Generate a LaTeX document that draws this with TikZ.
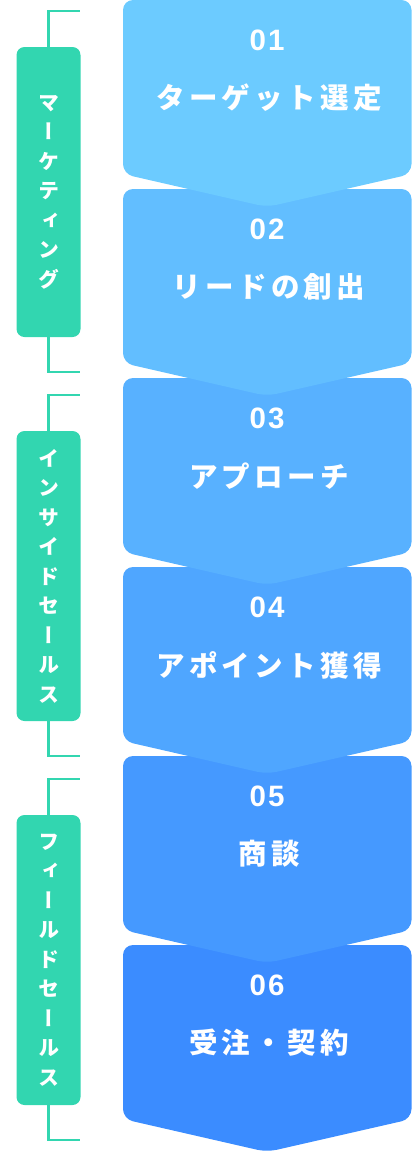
\documentclass[tikz,border=0pt]{standalone}
\usepackage{fontspec}
\setmainfont{Noto Sans CJK JP}
\newfontfamily\titlefont{Noto Sans CJK JP}[LetterSpace=15]
\newfontfamily\numfont{Liberation Sans}[LetterSpace=7]
\newfontfamily\tatefont{Noto Sans CJK JP}[RawFeature=+vert]

\definecolor{chev1}{HTML}{6CCBFF}
\definecolor{chev2}{HTML}{62BEFF}
\definecolor{chev3}{HTML}{58B1FF}
\definecolor{chev4}{HTML}{4FA6FF}
\definecolor{chev5}{HTML}{4599FF}
\definecolor{chev6}{HTML}{3B8CFF}
\definecolor{phasegreen}{HTML}{32D6B0}

\begin{document}
\begin{tikzpicture}[x=1pt, y=-1pt,
	chevron num/.style={text=white, inner sep=0pt, font=\numfont\bfseries\fontsize{29.5}{30}\selectfont},
	chevron title/.style={text=white, inner sep=0pt, font=\titlefont\bfseries\fontsize{28.5}{30}\selectfont},
	phase label/.style={fill=phasegreen, rounded corners=8pt, minimum width=64pt, minimum height=290pt,
		inner sep=0pt, align=center, text=white, font=\tatefont\bfseries\fontsize{21}{29.5}\selectfont},
	phase bracket/.style={draw=phasegreen, line width=2.7pt}]

		\useasboundingbox (0,0) rectangle (412,1152);

		% chevrons, last one first so each one lies over the next
		\foreach \i/\c in {5/chev6, 4/chev5, 3/chev4, 2/chev3, 1/chev2, 0/chev1}
			\fill [\c, rounded corners=10pt] (123,189*\i) -- (411.5,189*\i) -- (411.5,189*\i+174)
				-- (267,189*\i+207) -- (123,189*\i+174) -- cycle;

		% step numbers and titles
		\foreach \n/\l [count=\i from 0] in {01/ターゲット選定, 02/リードの創出, 03/アプローチ,
			04/アポイント獲得, 05/商談, 06/受注・契約}
		{
			\node [chevron num] (num-\n) at (267,40+189*\i) {\n};
			\node [chevron title] (title-\n) at (269,98+189*\i) {\l};
		}

		% phases
		\foreach \l [count=\i from 0] in {{マ\\ー\\ケ\\テ\\ィ\\ン\\グ},
			{イ\\ン\\サ\\イ\\ド\\セ\\ー\\ル\\ス},
			{フ\\ィ\\ー\\ル\\ド\\セ\\ー\\ル\\ス}}
		{
			\node [phase label] (phase-\i) at (48.5,192+384*\i) {\l};
			\coordinate (open-\i) at (80,11+384*\i);
			\coordinate (close-\i) at (80,372+384*\i);
			\draw [phase bracket] (phase-\i.north) |- (open-\i);
			\draw [phase bracket] (phase-\i.south) |- (close-\i);
		}

\end{tikzpicture}
\end{document}
